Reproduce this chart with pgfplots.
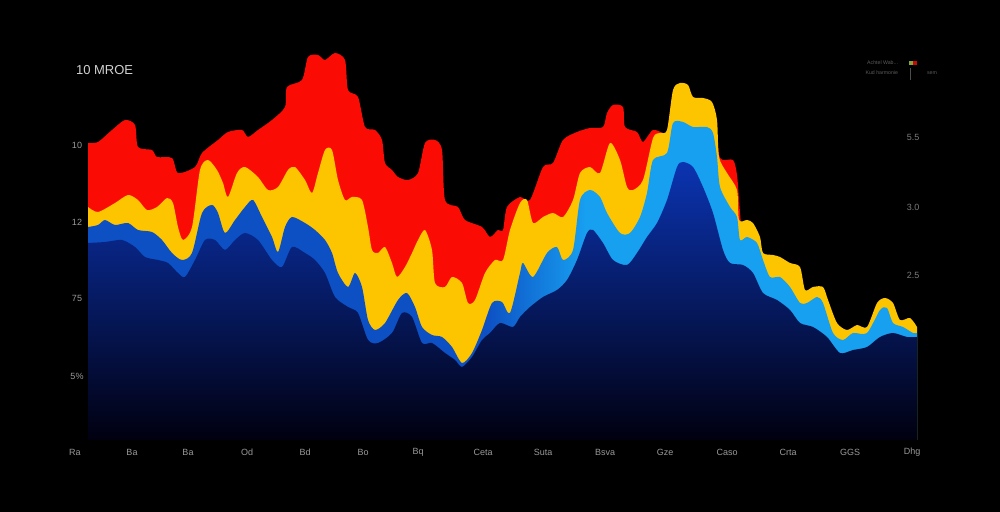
\documentclass[border=0pt]{standalone}
\usepackage{fontspec}
\setmainfont{Liberation Sans}
\usepackage{pgfplots}
\pgfplotsset{compat=1.18}
\definecolor{cred}{HTML}{FA0C04}
\definecolor{cyel}{HTML}{FDC400}
\definecolor{bmed}{HTML}{0D50C4}
\definecolor{blight}{HTML}{179FF0}
\definecolor{navytop}{HTML}{0B34B2}
\definecolor{navybot}{HTML}{010010}
\definecolor{lab}{HTML}{9A9A9A}
\pgfdeclarehorizontalshading{bluelr}{100bp}{color(0bp)=(bmed); color(25bp)=(bmed); color(49bp)=(bmed); color(55bp)=(blight); color(100bp)=(blight)}
\begin{document}
\begin{tikzpicture}
\fill[black] (-35pt,-36pt) rectangle (465pt,220pt);
\begin{axis}[
  scale only axis, width=425pt, height=200pt,
  xmin=70, xmax=920, ymin=0, ymax=400,
  axis line style={draw=none}, major tick length=0pt,
  clip=false,
  /pgf/number format/assume math mode=true,
  xtick={75,132,188,247,305,363,418,483,543,605,665,727,788,850,912},
  xticklabels={Ra,Ba,Ba,Od,Bd,Bo,Bq,Ceta,Suta,Bsva,Gze,Caso,Crta,GGS,Dhg},
  ytick={64,142,218,295},
  yticklabels={5\%,75,12,10},
  ticklabel style={font=\fontsize{4.5}{5}\selectfont, text=lab},
  xticklabel style={anchor=center, yshift=-6pt},
  yticklabel style={anchor=center, xshift=3.5pt},
]
% red
\addplot[draw=none, fill=cred, smooth, tension=0.45] coordinates {
(88,297)(98,298)(112,310)(125,320)(135,315)(138,293)(152,290)(157,283)(172,282)(178,267)(195,273)(202,287)(218,300)(228,308)(242,310)(248,303)(258,310)(272,320)(285,333)(287,353)(302,360)(308,383)(318,385)(325,380)(335,387)(345,380)(348,350)(358,343)(365,313)(375,310)(382,300)(385,277)(392,270)(398,263)(408,260)(418,267)(425,297)(435,300)(442,290)(445,240)(458,233)(465,220)(482,213)(490,203)(498,210)(503,210)(507,233)(520,243)(530,240)(543,273)(553,277)(563,300)(577,308)(590,312)(603,313)(607,327)(613,335)(623,333)(625,313)(637,308)(643,298)(653,310)(665,306)(667,306)(673,346)(680,353)(688,351)(693,339)(703,338)(712,334)(716,317)(720,282)(733,280)(737,265)(739,240)(741,215)
} \closedcycle;
% yellow
\addplot[draw=none, fill=cyel, smooth, tension=0.45] coordinates {
(88,233)(98,228)(115,237)(128,245)(138,240)(147,230)(157,233)(167,242)(173,237)(178,213)(183,200)(192,213)(200,270)(208,280)(217,270)(223,257)(228,243)(237,267)(245,273)(258,263)(268,250)(278,253)(288,270)(295,273)(305,260)(312,247)(318,267)(325,290)(332,290)(338,260)(345,240)(352,243)(362,240)(368,213)(372,190)(378,187)(385,193)(392,177)(397,163)(405,173)(412,187)(418,200)(425,210)(432,190)(435,157)(445,153)(452,163)(462,157)(468,137)(475,140)(485,167)(495,180)(503,180)(510,210)(520,237)(527,240)(533,217)(543,223)(553,227)(563,223)(573,240)(580,267)(590,273)(600,267)(610,297)(620,280)(627,253)(633,250)(643,260)(653,302)(660,307)(667,310)(673,350)(680,357)(688,355)(693,343)(703,342)(712,338)(717,320)(719,283)(727,267)(737,250)(739,220)(747,220)(753,217)(760,203)(763,187)(773,185)(780,183)(790,177)(800,173)(805,150)(813,153)(823,153)(828,140)(837,117)(847,110)(857,115)(867,113)(877,137)(885,142)(893,137)(900,120)(910,122)(917,113)
} \closedcycle;
% blue
\addplot[draw=none, shading=bluelr, smooth, tension=0.45] coordinates {
(88,213)(98,215)(105,220)(115,215)(128,217)(138,210)(152,208)(162,200)(172,187)(182,180)(192,187)(202,227)(212,235)(218,227)(225,207)(235,220)(245,233)(253,240)(262,223)(272,203)(278,188)(285,213)(292,223)(305,217)(315,210)(325,200)(332,187)(338,167)(348,153)(355,167)(362,153)(368,120)(375,110)(385,117)(398,140)(407,147)(415,133)(422,113)(432,105)(442,103)(452,93)(462,77)(472,87)(482,110)(492,137)(502,138)(510,127)(520,167)(523,177)(533,163)(547,187)(557,193)(563,180)(573,190)(580,240)(590,250)(600,243)(607,227)(620,207)(630,207)(640,223)(647,247)(653,280)(667,287)(673,317)(683,318)(693,313)(707,313)(713,307)(717,283)(720,253)(730,233)(737,223)(740,200)(747,203)(757,197)(763,180)(770,163)(780,163)(790,153)(800,137)(807,137)(817,143)(823,137)(833,107)(843,100)(853,107)(867,107)(880,130)(887,132)(893,117)(903,113)(913,107)(917,107)
} \closedcycle;
% navy
\addplot[draw=none, top color=navytop, bottom color=navybot, smooth, tension=0.45] coordinates {
(88,197)(105,198)(122,200)(135,193)(145,183)(158,180)(168,177)(178,167)(185,163)(195,180)(205,200)(215,200)(225,190)(235,200)(245,207)(258,200)(272,180)(282,173)(292,193)(305,187)(315,180)(325,167)(335,143)(348,133)(358,127)(368,100)(378,97)(392,107)(402,127)(412,123)(422,97)(432,97)(445,87)(455,80)(462,73)(472,83)(482,100)(490,107)(500,117)(513,113)(520,123)(530,133)(543,143)(557,150)(567,160)(577,180)(587,207)(593,210)(603,197)(613,180)(627,175)(637,187)(647,203)(657,217)(667,240)(677,273)(683,278)(693,273)(703,253)(713,227)(723,190)(730,177)(743,175)(753,167)(763,147)(777,140)(790,130)(800,117)(813,113)(827,103)(840,87)(853,90)(867,93)(880,103)(893,107)(907,103)(917,103)
} \closedcycle;
% title, right labels, legend
\node[anchor=west, text=white!82!black, font=\fontsize{6.5}{7}\selectfont] at (axis cs:69,370) {10 MROE};
\node[text=lab!80!black, font=\fontsize{4.5}{5}\selectfont] at (axis cs:913,303) {5.5};
\node[text=lab!80!black, font=\fontsize{4.5}{5}\selectfont] at (axis cs:913,233) {3.0};
\node[text=lab!80!black, font=\fontsize{4.5}{5}\selectfont] at (axis cs:913,165) {2.5};
\node[anchor=east, text=lab!60!black, font=\fontsize{2.6}{3}\selectfont] at (axis cs:905,377) {Achtel Wab...};
\node[anchor=east, text=lab!60!black, font=\fontsize{2.6}{3}\selectfont] at (axis cs:905,367) {Kud harmonie};
\fill[yellow!60!green!70!black] (axis cs:909,375) rectangle (axis cs:913,379);
\fill[cred!80!black] (axis cs:913,375) rectangle (axis cs:917,379);
\draw[lab!50!black, line width=0.3pt] (axis cs:910,372) -- (axis cs:910,360);
\node[anchor=west, text=lab!60!black, font=\fontsize{2.6}{3}\selectfont] at (axis cs:920,367) {sem};
\end{axis}
\pgfresetboundingbox
\path[use as bounding box] (-35pt,-36pt) rectangle (465pt,220pt);
\end{tikzpicture}
\end{document}
